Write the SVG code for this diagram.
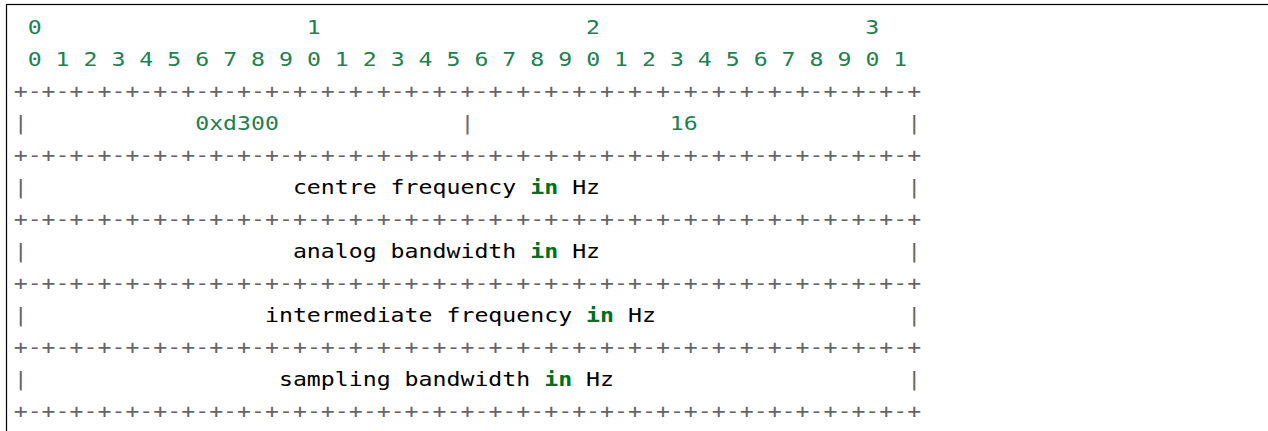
<svg xmlns="http://www.w3.org/2000/svg" width="1268" height="431" viewBox="0 0 1268 431">
  <style>
    text { font-family: "DejaVu Sans Mono", "Liberation Mono", monospace; font-size: 23.2px; }
    .num { fill: #208050; }
    .op { fill: #666666; }
    .txt { fill: #000000; }
    .kw { fill: #007020; font-weight: bold; }
  </style>
  <rect x="0" y="0" width="1268" height="431" fill="#ffffff"/>
  <!-- code block frame (extends past the right and bottom edges) -->
  <rect x="6.5" y="4.5" width="1400" height="600" fill="none" stroke="#000000" stroke-width="1.2"/>

  <!-- packet layout; glyphs squashed vertically to fit 32px rows -->
  <g transform="scale(1 0.8)">
    <g id="bit-ruler">
      <text class="num" y="42.5"><tspan x="27.66">0</tspan><tspan x="306.86">1</tspan><tspan x="586.06">2</tspan><tspan x="865.26">3</tspan></text>
      <text class="num" x="27.66" y="82.5">0 1 2 3 4 5 6 7 8 9 0 1 2 3 4 5 6 7 8 9 0 1 2 3 4 5 6 7 8 9 0 1</text>
    </g>

    <g id="separators" class="op">
      <text x="13.7" y="122.5">+-+-+-+-+-+-+-+-+-+-+-+-+-+-+-+-+-+-+-+-+-+-+-+-+-+-+-+-+-+-+-+-+</text>
      <text x="13.7" y="202.5">+-+-+-+-+-+-+-+-+-+-+-+-+-+-+-+-+-+-+-+-+-+-+-+-+-+-+-+-+-+-+-+-+</text>
      <text x="13.7" y="282.5">+-+-+-+-+-+-+-+-+-+-+-+-+-+-+-+-+-+-+-+-+-+-+-+-+-+-+-+-+-+-+-+-+</text>
      <text x="13.7" y="362.5">+-+-+-+-+-+-+-+-+-+-+-+-+-+-+-+-+-+-+-+-+-+-+-+-+-+-+-+-+-+-+-+-+</text>
      <text x="13.7" y="442.5">+-+-+-+-+-+-+-+-+-+-+-+-+-+-+-+-+-+-+-+-+-+-+-+-+-+-+-+-+-+-+-+-+</text>
      <text x="13.7" y="522.5">+-+-+-+-+-+-+-+-+-+-+-+-+-+-+-+-+-+-+-+-+-+-+-+-+-+-+-+-+-+-+-+-+</text>
    </g>

    <g id="row-type-length">
      <text class="op" y="162.5"><tspan x="13.7">|</tspan><tspan x="460.42">|</tspan><tspan x="907.14">|</tspan></text>
      <text class="num" x="195.18" y="162.5">0xd300</text>
      <text class="num" x="669.82" y="162.5">16</text>
    </g>

    <g id="row-centre-frequency">
      <text class="op" y="242.5"><tspan x="13.7">|</tspan><tspan x="907.14">|</tspan></text>
      <text class="txt" x="292.9" y="242.5">centre frequency <tspan class="kw">in</tspan> Hz</text>
    </g>

    <g id="row-analog-bandwidth">
      <text class="op" y="322.5"><tspan x="13.7">|</tspan><tspan x="907.14">|</tspan></text>
      <text class="txt" x="292.9" y="322.5">analog bandwidth <tspan class="kw">in</tspan> Hz</text>
    </g>

    <g id="row-intermediate-frequency">
      <text class="op" y="402.5"><tspan x="13.7">|</tspan><tspan x="907.14">|</tspan></text>
      <text class="txt" x="264.98" y="402.5">intermediate frequency <tspan class="kw">in</tspan> Hz</text>
    </g>

    <g id="row-sampling-bandwidth">
      <text class="op" y="482.5"><tspan x="13.7">|</tspan><tspan x="907.14">|</tspan></text>
      <text class="txt" x="278.94" y="482.5">sampling bandwidth <tspan class="kw">in</tspan> Hz</text>
    </g>
  </g>
</svg>
